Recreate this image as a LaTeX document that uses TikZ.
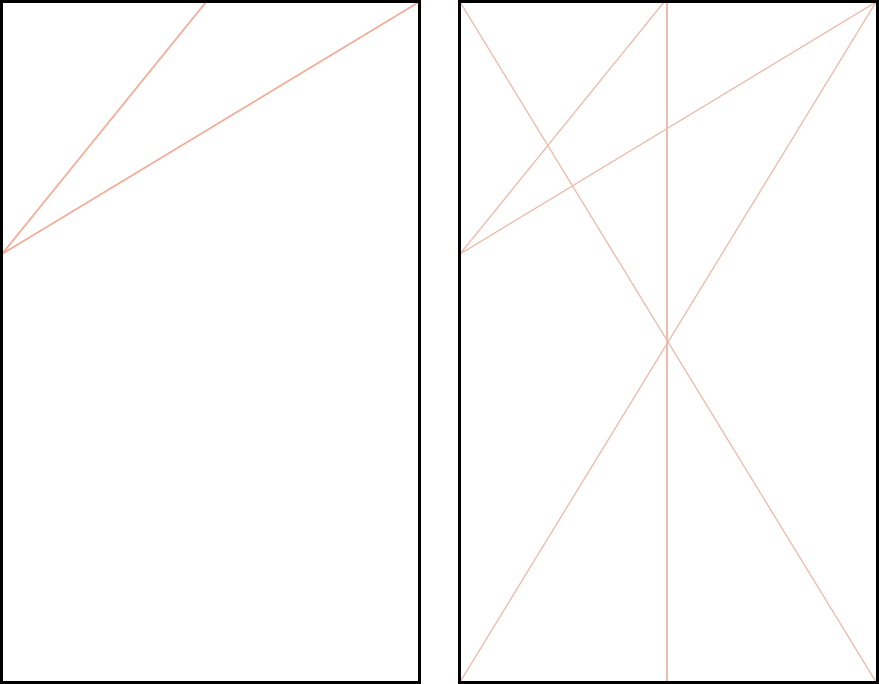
\documentclass[tikz,border=0pt]{standalone}
\begin{document}
\begin{tikzpicture}[x=1pt,y=-1pt,
  frame/.style={draw=black,line width=3pt},
  leftline/.style={draw={rgb,255:red,245;green,172;blue,152},line width=1.6pt},
  rightline/.style={draw={rgb,255:red,236;green,188;blue,172},line width=1.2pt}]
\useasboundingbox (0,0) rectangle (879,684);
% left panel
\coordinate (LA) at (2,254);
\coordinate (LB) at (206,2);
\coordinate (LC) at (419,2);
\draw[leftline] (LB) -- (LA) -- (LC);
\draw[frame] (1.5,1.5) rectangle (419.5,682.5);
% right panel
\coordinate (RA) at (460,254);
\coordinate (RB) at (664,2);
\coordinate (RTL) at (460,2);
\coordinate (RTR) at (876,2);
\coordinate (RBL) at (460,682);
\coordinate (RBR) at (876,682);
\coordinate (VT) at (667,2);
\coordinate (VB) at (667,682);
\draw[rightline] (RB) -- (RA) -- (RTR);
\draw[rightline] (RTL) -- (RBR);
\draw[rightline] (RBL) -- (RTR);
\draw[rightline] (VT) -- (VB);
\draw[frame] (459,1.5) rectangle (877,682.5);
\end{tikzpicture}
\end{document}
